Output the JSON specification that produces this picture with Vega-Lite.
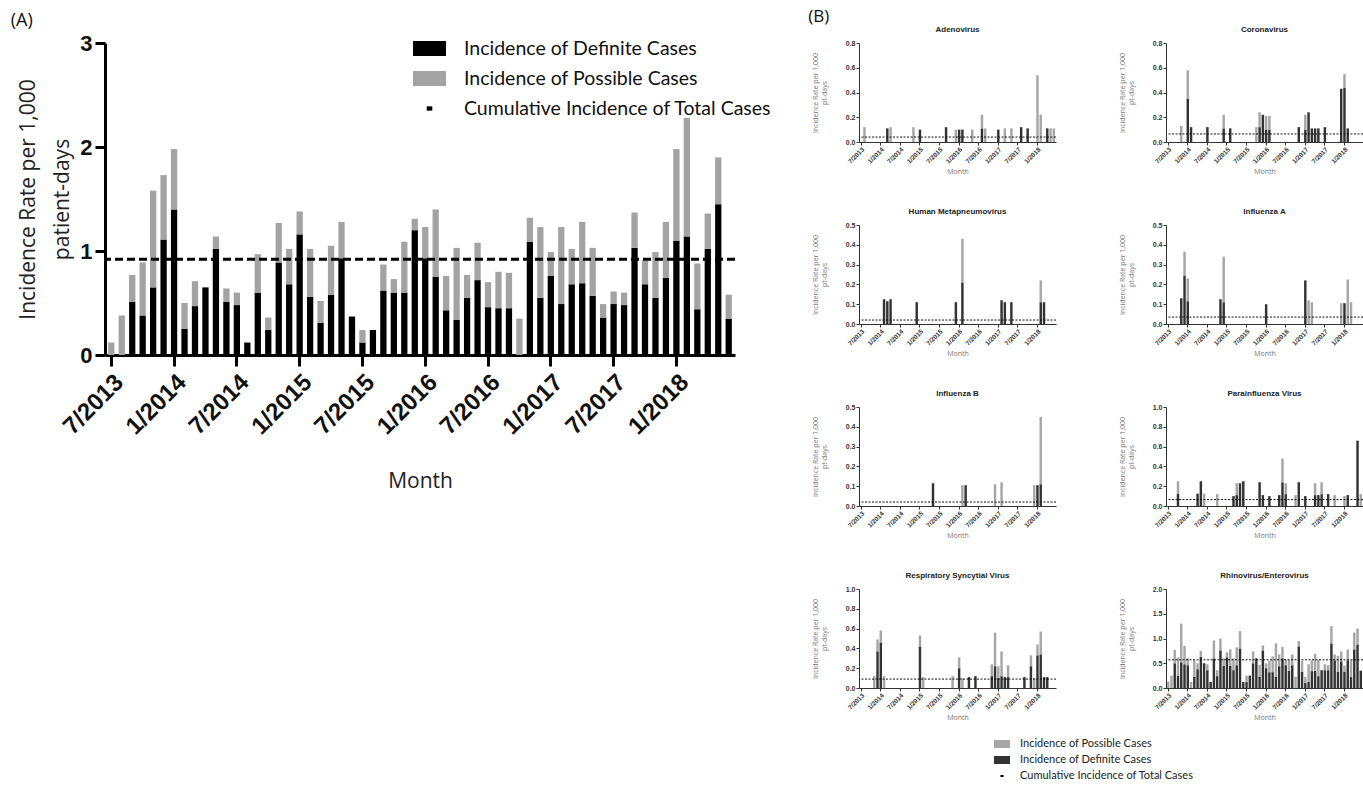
{
"$schema":"https://vega.github.io/schema/vega-lite/v6.json",
"padding":{"left":10,"top":8,"right":5,"bottom":5},
"background":"white",
"config":{
 "view":{"stroke":null},
 "axis":{"grid":false,"labelOverlap":false,"domainColor":"#333","domainWidth":1,"tickColor":"#333","tickWidth":1,"tickSize":3,"labelFont":"Liberation Sans","labelFontWeight":"bold","labelFontSize":7,"labelColor":"#333","labelPadding":1,"titleFont":"Open Sans","titleFontWeight":"normal","titleFontSize":7,"titleColor":"#777","titlePadding":3,"titleLineHeight":9},
 "axisX":{"labelAngle":-45,"labelFontSize":6.5},
 "axisY":{"titlePadding":18},
 "title":{"font":"Liberation Sans","fontSize":8,"fontWeight":"bold","color":"#222","offset":5},
 "legend":{"labelLimit":0}
},
"datasets":{
 "a":[
  {"m":"7/2013","d":0,"p":0.12},{"m":"8/2013","d":0,"p":0.38},{"m":"9/2013","d":0.51,"p":0.26},{"m":"10/2013","d":0.38,"p":0.51},{"m":"11/2013","d":0.65,"p":0.93},{"m":"12/2013","d":1.11,"p":0.62},
  {"m":"1/2014","d":1.40,"p":0.58},{"m":"2/2014","d":0.25,"p":0.25},{"m":"3/2014","d":0.47,"p":0.24},{"m":"4/2014","d":0.65,"p":0},{"m":"5/2014","d":1.02,"p":0.12},{"m":"6/2014","d":0.51,"p":0.13},
  {"m":"7/2014","d":0.48,"p":0.12},{"m":"8/2014","d":0.12,"p":0},{"m":"9/2014","d":0.60,"p":0.37},{"m":"10/2014","d":0.24,"p":0.12},{"m":"11/2014","d":0.89,"p":0.38},{"m":"12/2014","d":0.68,"p":0.34},
  {"m":"1/2015","d":1.16,"p":0.22},{"m":"2/2015","d":0.56,"p":0.46},{"m":"3/2015","d":0.31,"p":0.21},{"m":"4/2015","d":0.58,"p":0.47},{"m":"5/2015","d":0.93,"p":0.35},{"m":"6/2015","d":0.37,"p":0},
  {"m":"7/2015","d":0.12,"p":0.12},{"m":"8/2015","d":0.24,"p":0},{"m":"9/2015","d":0.62,"p":0.25},{"m":"10/2015","d":0.60,"p":0.13},{"m":"11/2015","d":0.60,"p":0.49},{"m":"12/2015","d":1.20,"p":0.11},
  {"m":"1/2016","d":0.93,"p":0.30},{"m":"2/2016","d":0.75,"p":0.65},{"m":"3/2016","d":0.43,"p":0.33},{"m":"4/2016","d":0.34,"p":0.69},{"m":"5/2016","d":0.55,"p":0.22},{"m":"6/2016","d":0.72,"p":0.36},
  {"m":"7/2016","d":0.46,"p":0.24},{"m":"8/2016","d":0.45,"p":0.35},{"m":"9/2016","d":0.45,"p":0.34},{"m":"10/2016","d":0,"p":0.35},{"m":"11/2016","d":1.09,"p":0.23},{"m":"12/2016","d":0.55,"p":0.68},
  {"m":"1/2017","d":0.76,"p":0.23},{"m":"2/2017","d":0.49,"p":0.74},{"m":"3/2017","d":0.68,"p":0.34},{"m":"4/2017","d":0.69,"p":0.59},{"m":"5/2017","d":0.57,"p":0.46},{"m":"6/2017","d":0.36,"p":0.13},
  {"m":"7/2017","d":0.49,"p":0.12},{"m":"8/2017","d":0.48,"p":0.12},{"m":"9/2017","d":1.03,"p":0.34},{"m":"10/2017","d":0.68,"p":0.23},{"m":"11/2017","d":0.55,"p":0.44},{"m":"12/2017","d":0.74,"p":0.54},
  {"m":"1/2018","d":1.10,"p":0.88},{"m":"2/2018","d":1.14,"p":1.14},{"m":"3/2018","d":0.44,"p":0.44},{"m":"4/2018","d":1.02,"p":0.34},{"m":"5/2018","d":1.45,"p":0.45},{"m":"6/2018","d":0.35,"p":0.23}
 ],
 "b":[
  {"g":"ad","m":"8/2013","d":0,"p":0.12},{"g":"ad","m":"3/2014","d":0.11,"p":0},{"g":"ad","m":"4/2014","d":0,"p":0.12},{"g":"ad","m":"11/2014","d":0,"p":0.12},{"g":"ad","m":"1/2015","d":0.10,"p":0},{"g":"ad","m":"9/2015","d":0.12,"p":0},{"g":"ad","m":"12/2015","d":0,"p":0.10},{"g":"ad","m":"1/2016","d":0.10,"p":0},{"g":"ad","m":"2/2016","d":0.10,"p":0},{"g":"ad","m":"5/2016","d":0,"p":0.10},{"g":"ad","m":"8/2016","d":0.11,"p":0.11},{"g":"ad","m":"9/2016","d":0,"p":0.11},{"g":"ad","m":"1/2017","d":0.10,"p":0},{"g":"ad","m":"3/2017","d":0,"p":0.11},{"g":"ad","m":"5/2017","d":0,"p":0.11},{"g":"ad","m":"8/2017","d":0.12,"p":0},{"g":"ad","m":"10/2017","d":0.11,"p":0},{"g":"ad","m":"1/2018","d":0,"p":0.54},{"g":"ad","m":"2/2018","d":0,"p":0.22},{"g":"ad","m":"4/2018","d":0.11,"p":0},{"g":"ad","m":"5/2018","d":0,"p":0.11},{"g":"ad","m":"6/2018","d":0,"p":0.11},
  {"g":"co","m":"11/2013","d":0,"p":0.13},{"g":"co","m":"1/2014","d":0.35,"p":0.23},{"g":"co","m":"2/2014","d":0.12,"p":0},{"g":"co","m":"7/2014","d":0.12,"p":0},{"g":"co","m":"12/2014","d":0.11,"p":0.11},{"g":"co","m":"2/2015","d":0.11,"p":0},{"g":"co","m":"10/2015","d":0,"p":0.12},{"g":"co","m":"11/2015","d":0.12,"p":0.12},{"g":"co","m":"12/2015","d":0.22,"p":0},{"g":"co","m":"1/2016","d":0.10,"p":0.11},{"g":"co","m":"2/2016","d":0.10,"p":0.11},{"g":"co","m":"11/2016","d":0.12,"p":0},{"g":"co","m":"1/2017","d":0.10,"p":0.12},{"g":"co","m":"2/2017","d":0.24,"p":0},{"g":"co","m":"3/2017","d":0.11,"p":0},{"g":"co","m":"4/2017","d":0.11,"p":0},{"g":"co","m":"5/2017","d":0.11,"p":0},{"g":"co","m":"7/2017","d":0.12,"p":0},{"g":"co","m":"12/2017","d":0.43,"p":0},{"g":"co","m":"1/2018","d":0.44,"p":0.11},{"g":"co","m":"2/2018","d":0.11,"p":0},
  {"g":"hm","m":"2/2014","d":0.125,"p":0},{"g":"hm","m":"3/2014","d":0.115,"p":0},{"g":"hm","m":"4/2014","d":0.125,"p":0},{"g":"hm","m":"12/2014","d":0.11,"p":0},{"g":"hm","m":"12/2015","d":0.11,"p":0},{"g":"hm","m":"2/2016","d":0.21,"p":0.22},{"g":"hm","m":"2/2017","d":0.12,"p":0},{"g":"hm","m":"3/2017","d":0.11,"p":0},{"g":"hm","m":"5/2017","d":0.11,"p":0},{"g":"hm","m":"2/2018","d":0.11,"p":0.11},{"g":"hm","m":"3/2018","d":0.11,"p":0},
  {"g":"fa","m":"11/2013","d":0.13,"p":0},{"g":"fa","m":"12/2013","d":0.245,"p":0.12},{"g":"fa","m":"1/2014","d":0.115,"p":0.115},{"g":"fa","m":"11/2014","d":0.125,"p":0},{"g":"fa","m":"12/2014","d":0.11,"p":0.23},{"g":"fa","m":"1/2016","d":0.10,"p":0},{"g":"fa","m":"1/2017","d":0.22,"p":0},{"g":"fa","m":"2/2017","d":0,"p":0.12},{"g":"fa","m":"3/2017","d":0,"p":0.11},{"g":"fa","m":"12/2017","d":0,"p":0.105},{"g":"fa","m":"1/2018","d":0.105,"p":0},{"g":"fa","m":"2/2018","d":0,"p":0.225},{"g":"fa","m":"3/2018","d":0,"p":0.11},
  {"g":"fb","m":"5/2015","d":0.115,"p":0},{"g":"fb","m":"2/2016","d":0,"p":0.105},{"g":"fb","m":"3/2016","d":0.105,"p":0},{"g":"fb","m":"12/2016","d":0,"p":0.11},{"g":"fb","m":"2/2017","d":0,"p":0.12},{"g":"fb","m":"12/2017","d":0,"p":0.105},{"g":"fb","m":"1/2018","d":0.105,"p":0},{"g":"fb","m":"2/2018","d":0.11,"p":0.34},
  {"g":"pi","m":"10/2013","d":0.125,"p":0.125},{"g":"pi","m":"4/2014","d":0.125,"p":0},{"g":"pi","m":"5/2014","d":0.25,"p":0},{"g":"pi","m":"6/2014","d":0,"p":0.125},{"g":"pi","m":"10/2014","d":0,"p":0.12},{"g":"pi","m":"3/2015","d":0.10,"p":0},{"g":"pi","m":"4/2015","d":0.11,"p":0.12},{"g":"pi","m":"5/2015","d":0.23,"p":0},{"g":"pi","m":"6/2015","d":0.25,"p":0},{"g":"pi","m":"11/2015","d":0.24,"p":0},{"g":"pi","m":"12/2015","d":0.11,"p":0},{"g":"pi","m":"2/2016","d":0.10,"p":0},{"g":"pi","m":"5/2016","d":0.11,"p":0},{"g":"pi","m":"6/2016","d":0.24,"p":0.24},{"g":"pi","m":"7/2016","d":0.12,"p":0.11},{"g":"pi","m":"10/2016","d":0,"p":0.11},{"g":"pi","m":"11/2016","d":0.24,"p":0},{"g":"pi","m":"1/2017","d":0.10,"p":0},{"g":"pi","m":"4/2017","d":0.11,"p":0.12},{"g":"pi","m":"5/2017","d":0.11,"p":0},{"g":"pi","m":"6/2017","d":0.12,"p":0.12},{"g":"pi","m":"8/2017","d":0.12,"p":0},{"g":"pi","m":"10/2017","d":0,"p":0.11},{"g":"pi","m":"1/2018","d":0,"p":0.10},{"g":"pi","m":"2/2018","d":0.11,"p":0},{"g":"pi","m":"5/2018","d":0.66,"p":0},{"g":"pi","m":"6/2018","d":0,"p":0.12},
  {"g":"rs","m":"11/2013","d":0,"p":0.12},{"g":"rs","m":"12/2013","d":0.37,"p":0.12},{"g":"rs","m":"1/2014","d":0.46,"p":0.12},{"g":"rs","m":"2/2014","d":0,"p":0.12},{"g":"rs","m":"1/2015","d":0.42,"p":0.11},{"g":"rs","m":"2/2015","d":0,"p":0.11},{"g":"rs","m":"11/2015","d":0,"p":0.12},{"g":"rs","m":"1/2016","d":0.20,"p":0.11},{"g":"rs","m":"2/2016","d":0,"p":0.10},{"g":"rs","m":"4/2016","d":0.11,"p":0},{"g":"rs","m":"6/2016","d":0.12,"p":0},{"g":"rs","m":"11/2016","d":0.12,"p":0.12},{"g":"rs","m":"12/2016","d":0.22,"p":0.34},{"g":"rs","m":"1/2017","d":0.10,"p":0.12},{"g":"rs","m":"2/2017","d":0.12,"p":0.25},{"g":"rs","m":"3/2017","d":0.11,"p":0},{"g":"rs","m":"4/2017","d":0.11,"p":0.12},{"g":"rs","m":"9/2017","d":0.11,"p":0},{"g":"rs","m":"11/2017","d":0.22,"p":0.11},{"g":"rs","m":"12/2017","d":0,"p":0.10},{"g":"rs","m":"1/2018","d":0.33,"p":0.11},{"g":"rs","m":"2/2018","d":0.34,"p":0.23},{"g":"rs","m":"3/2018","d":0.11,"p":0},{"g":"rs","m":"4/2018","d":0.11,"p":0},
  {"g":"rh","m":"7/2013","d":0,"p":0.13},{"g":"rh","m":"8/2013","d":0,"p":0.25},{"g":"rh","m":"9/2013","d":0.5,"p":0.27},{"g":"rh","m":"10/2013","d":0.25,"p":0.37},{"g":"rh","m":"11/2013","d":0.52,"p":0.78},{"g":"rh","m":"12/2013","d":0.48,"p":0.37},
  {"g":"rh","m":"1/2014","d":0.46,"p":0.14},{"g":"rh","m":"2/2014","d":0,"p":0.12},{"g":"rh","m":"3/2014","d":0.23,"p":0.33},{"g":"rh","m":"4/2014","d":0.38,"p":0.12},{"g":"rh","m":"5/2014","d":0.63,"p":0.12},{"g":"rh","m":"6/2014","d":0.5,"p":0},
  {"g":"rh","m":"7/2014","d":0.36,"p":0.12},{"g":"rh","m":"8/2014","d":0.12,"p":0},{"g":"rh","m":"9/2014","d":0.6,"p":0.36},{"g":"rh","m":"10/2014","d":0.24,"p":0.12},{"g":"rh","m":"11/2014","d":0.76,"p":0.24},{"g":"rh","m":"12/2014","d":0.45,"p":0.15},
  {"g":"rh","m":"1/2015","d":0.62,"p":0.1},{"g":"rh","m":"2/2015","d":0.45,"p":0.33},{"g":"rh","m":"3/2015","d":0.36,"p":0.24},{"g":"rh","m":"4/2015","d":0.46,"p":0.36},{"g":"rh","m":"5/2015","d":0.8,"p":0.35},{"g":"rh","m":"6/2015","d":0.12,"p":0},
  {"g":"rh","m":"7/2015","d":0.12,"p":0.13},{"g":"rh","m":"8/2015","d":0.25,"p":0},{"g":"rh","m":"9/2015","d":0.5,"p":0.24},{"g":"rh","m":"10/2015","d":0.6,"p":0},{"g":"rh","m":"11/2015","d":0.23,"p":0.24},{"g":"rh","m":"12/2015","d":0.76,"p":0.1},
  {"g":"rh","m":"1/2016","d":0.4,"p":0.1},{"g":"rh","m":"2/2016","d":0.32,"p":0.23},{"g":"rh","m":"3/2016","d":0.32,"p":0.32},{"g":"rh","m":"4/2016","d":0.23,"p":0.67},{"g":"rh","m":"5/2016","d":0.44,"p":0.24},{"g":"rh","m":"6/2016","d":0.6,"p":0.23},
  {"g":"rh","m":"7/2016","d":0.46,"p":0.12},{"g":"rh","m":"8/2016","d":0.35,"p":0.22},{"g":"rh","m":"9/2016","d":0.46,"p":0.22},{"g":"rh","m":"10/2016","d":0,"p":0.23},{"g":"rh","m":"11/2016","d":0.84,"p":0.11},{"g":"rh","m":"12/2016","d":0.33,"p":0.22},
  {"g":"rh","m":"1/2017","d":0.1,"p":0.12},{"g":"rh","m":"2/2017","d":0.12,"p":0.36},{"g":"rh","m":"3/2017","d":0.34,"p":0.22},{"g":"rh","m":"4/2017","d":0.35,"p":0.34},{"g":"rh","m":"5/2017","d":0.24,"p":0.33},{"g":"rh","m":"6/2017","d":0.36,"p":0},
  {"g":"rh","m":"7/2017","d":0.36,"p":0.12},{"g":"rh","m":"8/2017","d":0.36,"p":0.1},{"g":"rh","m":"9/2017","d":0.9,"p":0.35},{"g":"rh","m":"10/2017","d":0.56,"p":0.12},{"g":"rh","m":"11/2017","d":0.33,"p":0.32},{"g":"rh","m":"12/2017","d":0.54,"p":0.2},
  {"g":"rh","m":"1/2018","d":0.33,"p":0.12},{"g":"rh","m":"2/2018","d":0.56,"p":0.22},{"g":"rh","m":"3/2018","d":0.22,"p":0.34},{"g":"rh","m":"4/2018","d":0.78,"p":0.34},{"g":"rh","m":"5/2018","d":0.88,"p":0.32},{"g":"rh","m":"6/2018","d":0.35,"p":0}
 ],
 "c":[{"g":"ad","c":0.04},{"g":"co","c":0.065},{"g":"hm","c":0.02},{"g":"fa","c":0.035},{"g":"fb","c":0.02},{"g":"pi","c":0.065},{"g":"rs","c":0.09},{"g":"rh","c":0.57}],
 "a_cum":[{"c":0.92}]
},
"resolve":{"scale":{"color":"independent"},"legend":{"color":"independent"}},
"spacing":31,
"hconcat":[
 {
  "title":{"text":"(A)","anchor":"start","font":"Open Sans","fontSize":18,"fontWeight":"normal","color":"#111","offset":2,"dx":-7},
  "width":630,"height":312,
  "layer":[
   {"data":{"name":"a"},"transform":[{"fold":["d","p"],"as":["t","v"]}],
    "mark":{"type":"bar"},
    "encoding":{
     "x":{"field":"m","type":"ordinal","sort":null,"title":"Month","scale":{"paddingInner":0.4,"paddingOuter":0.3},
      "axis":{"values":["7/2013","1/2014","7/2014","1/2015","7/2015","1/2016","7/2016","1/2017","7/2017","1/2018"],"labelOverlap":false,"labelAngle":-45,"labelFontSize":24,"labelFont":"Liberation Sans","labelFontWeight":"bold","labelColor":"#111","labelPadding":4,"domainColor":"#000","domainWidth":3,"tickColor":"#000","tickWidth":3,"tickSize":11,"titleFont":"Open Sans","titleFontSize":21,"titleColor":"#222","titlePadding":32}},
     "y":{"field":"v","type":"quantitative","stack":"zero","title":["Incidence Rate per 1,000","patient-days"],"scale":{"domain":[0,3]},
      "axis":{"values":[0,1,2,3],"format":"d","labelOverlap":false,"labelFontSize":22,"labelFont":"Liberation Sans","labelFontWeight":"bold","labelColor":"#111","labelPadding":3,"domainColor":"#000","domainWidth":3,"tickColor":"#000","tickWidth":3,"tickSize":10,"titleFont":"Open Sans","titleFontSize":21,"titleColor":"#222","titlePadding":7,"titleLineHeight":34}},
     "color":{"field":"t","type":"nominal","scale":{"domain":["d","p","c"],"range":["#000000","#a3a3a3","#000000"]},
      "legend":{"orient":"none","legendX":308,"legendY":-11,"title":null,"direction":"vertical","padding":0,"labelFont":"Lato","labelFontSize":19.5,"labelColor":"#111","symbolSize":1089,"symbolStrokeWidth":0,"labelOffset":18,"rowPadding":4,
       "labelExpr":"datum.value=='d'?'Incidence of Definite Cases':datum.value=='p'?'Incidence of Possible Cases':'Cumulative Incidence of  Total Cases'",
       "encode":{"symbols":{"update":{"shape":{"signal":"datum.value=='c'?'M-0.17,-0.13H0.17V0.13H-0.17Z':'M-1,-0.45H1V0.45H-1Z'"}}}}}},
     "order":{"field":"t","type":"ordinal"}
    }},
   {"data":{"name":"a_cum"},"mark":{"type":"rule","strokeDash":[8,4],"strokeWidth":3,"color":"#000"},"encoding":{"y":{"field":"c","type":"quantitative","title":["Incidence Rate per 1,000","patient-days"],
      "axis":{"values":[0,1,2,3],"format":"d","labelOverlap":false,"labelFontSize":22,"labelFont":"Liberation Sans","labelFontWeight":"bold","labelColor":"#111","labelPadding":3,"domainColor":"#000","domainWidth":3,"tickColor":"#000","tickWidth":3,"tickSize":10,"titleFont":"Open Sans","titleFontSize":21,"titleColor":"#222","titlePadding":7,"titleLineHeight":34}}}}
  ]
 },
 {
  "title":{"text":"(B)","anchor":"start","font":"Open Sans","fontSize":17,"fontWeight":"normal","color":"#111","offset":0,"dx":-3},
  "spacing":33,
  "vconcat":[
   {"spacing":61,"hconcat":[
    {"title":"Adenovirus","width":197,"height":99,"layer":[
     {"data":{"name":"b"},"transform":[{"filter":"datum.g==='ad'"},{"fold":["d","p"],"as":["s","v"]}],"mark":{"type":"bar"},
      "encoding":{
       "x":{"field":"m","type":"ordinal","title":"Month","scale":{"domain":["7/2013","8/2013","9/2013","10/2013","11/2013","12/2013","1/2014","2/2014","3/2014","4/2014","5/2014","6/2014","7/2014","8/2014","9/2014","10/2014","11/2014","12/2014","1/2015","2/2015","3/2015","4/2015","5/2015","6/2015","7/2015","8/2015","9/2015","10/2015","11/2015","12/2015","1/2016","2/2016","3/2016","4/2016","5/2016","6/2016","7/2016","8/2016","9/2016","10/2016","11/2016","12/2016","1/2017","2/2017","3/2017","4/2017","5/2017","6/2017","7/2017","8/2017","9/2017","10/2017","11/2017","12/2017","1/2018","2/2018","3/2018","4/2018","5/2018","6/2018"],"paddingInner":0.25,"paddingOuter":0.3},"axis":{"values":["7/2013","1/2014","7/2014","1/2015","7/2015","1/2016","7/2016","1/2017","7/2017","1/2018"],"labelOverlap":false}},
       "y":{"field":"v","type":"quantitative","stack":"zero","title":["Incidence Rate per 1,000","pt-days"],"scale":{"domain":[0,0.8]},"axis":{"values":[0,0.2,0.4,0.6,0.8],"format":".1f","labelOverlap":false}},
       "color":{"field":"s","type":"nominal","scale":{"domain":["p","d","c"],"range":["#a6a6a6","#333333","#000000"]},"legend":{"orient":"none","legendX":135,"legendY":693,"title":null,"direction":"vertical","padding":0,"labelFont":"Lato","labelFontSize":11,"labelColor":"#222","symbolSize":256,"symbolStrokeWidth":0,"labelOffset":10,"rowPadding":3,"labelExpr":"datum.value=='p'?'Incidence of Possible Cases':datum.value=='d'?'Incidence of Definite Cases':'Cumulative Incidence of  Total Cases'","encode":{"symbols":{"update":{"shape":{"signal":"datum.value=='c'?'M-0.2,-0.12H0.2V0.12H-0.2Z':'M-1,-0.5H1V0.5H-1Z'"}}}}}},
       "order":{"field":"s","type":"ordinal"}}},
     {"data":{"name":"c"},"transform":[{"filter":"datum.g==='ad'"}],"mark":{"type":"rule","strokeDash":[2,1.5],"strokeWidth":1,"color":"#111"},"encoding":{"y":{"field":"c","type":"quantitative","title":["Incidence Rate per 1,000","pt-days"],"axis":{"values":[0,0.2,0.4,0.6,0.8],"format":".1f","labelOverlap":false}}}}
    ]},
    {"title":"Coronavirus","width":197,"height":99,"layer":[
     {"data":{"name":"b"},"transform":[{"filter":"datum.g==='co'"},{"fold":["d","p"],"as":["s","v"]}],"mark":{"type":"bar"},
      "encoding":{
       "x":{"field":"m","type":"ordinal","title":"Month","scale":{"domain":["7/2013","8/2013","9/2013","10/2013","11/2013","12/2013","1/2014","2/2014","3/2014","4/2014","5/2014","6/2014","7/2014","8/2014","9/2014","10/2014","11/2014","12/2014","1/2015","2/2015","3/2015","4/2015","5/2015","6/2015","7/2015","8/2015","9/2015","10/2015","11/2015","12/2015","1/2016","2/2016","3/2016","4/2016","5/2016","6/2016","7/2016","8/2016","9/2016","10/2016","11/2016","12/2016","1/2017","2/2017","3/2017","4/2017","5/2017","6/2017","7/2017","8/2017","9/2017","10/2017","11/2017","12/2017","1/2018","2/2018","3/2018","4/2018","5/2018","6/2018"],"paddingInner":0.25,"paddingOuter":0.3},"axis":{"values":["7/2013","1/2014","7/2014","1/2015","7/2015","1/2016","7/2016","1/2017","7/2017","1/2018"],"labelOverlap":false}},
       "y":{"field":"v","type":"quantitative","stack":"zero","title":["Incidence Rate per 1,000","pt-days"],"scale":{"domain":[0,0.8]},"axis":{"values":[0,0.2,0.4,0.6,0.8],"format":".1f","labelOverlap":false}},
       "color":{"field":"s","type":"nominal","scale":{"domain":["p","d","c"],"range":["#a6a6a6","#333333","#000000"]},"legend":{"orient":"none","legendX":135,"legendY":693,"title":null,"direction":"vertical","padding":0,"labelFont":"Lato","labelFontSize":11,"labelColor":"#222","symbolSize":256,"symbolStrokeWidth":0,"labelOffset":10,"rowPadding":3,"labelExpr":"datum.value=='p'?'Incidence of Possible Cases':datum.value=='d'?'Incidence of Definite Cases':'Cumulative Incidence of  Total Cases'","encode":{"symbols":{"update":{"shape":{"signal":"datum.value=='c'?'M-0.2,-0.12H0.2V0.12H-0.2Z':'M-1,-0.5H1V0.5H-1Z'"}}}}}},
       "order":{"field":"s","type":"ordinal"}}},
     {"data":{"name":"c"},"transform":[{"filter":"datum.g==='co'"}],"mark":{"type":"rule","strokeDash":[2,1.5],"strokeWidth":1,"color":"#111"},"encoding":{"y":{"field":"c","type":"quantitative","title":["Incidence Rate per 1,000","pt-days"],"axis":{"values":[0,0.2,0.4,0.6,0.8],"format":".1f","labelOverlap":false}}}}
    ]}
   ]},
   {"spacing":61,"hconcat":[
    {"title":"Human Metapneumovirus","width":197,"height":99,"layer":[
     {"data":{"name":"b"},"transform":[{"filter":"datum.g==='hm'"},{"fold":["d","p"],"as":["s","v"]}],"mark":{"type":"bar"},
      "encoding":{
       "x":{"field":"m","type":"ordinal","title":"Month","scale":{"domain":["7/2013","8/2013","9/2013","10/2013","11/2013","12/2013","1/2014","2/2014","3/2014","4/2014","5/2014","6/2014","7/2014","8/2014","9/2014","10/2014","11/2014","12/2014","1/2015","2/2015","3/2015","4/2015","5/2015","6/2015","7/2015","8/2015","9/2015","10/2015","11/2015","12/2015","1/2016","2/2016","3/2016","4/2016","5/2016","6/2016","7/2016","8/2016","9/2016","10/2016","11/2016","12/2016","1/2017","2/2017","3/2017","4/2017","5/2017","6/2017","7/2017","8/2017","9/2017","10/2017","11/2017","12/2017","1/2018","2/2018","3/2018","4/2018","5/2018","6/2018"],"paddingInner":0.25,"paddingOuter":0.3},"axis":{"values":["7/2013","1/2014","7/2014","1/2015","7/2015","1/2016","7/2016","1/2017","7/2017","1/2018"],"labelOverlap":false}},
       "y":{"field":"v","type":"quantitative","stack":"zero","title":["Incidence Rate per 1,000","pt-days"],"scale":{"domain":[0,0.5]},"axis":{"values":[0,0.1,0.2,0.3,0.4,0.5],"format":".1f","labelOverlap":false}},
       "color":{"field":"s","type":"nominal","scale":{"domain":["p","d","c"],"range":["#a6a6a6","#333333","#000000"]},"legend":{"orient":"none","legendX":135,"legendY":693,"title":null,"direction":"vertical","padding":0,"labelFont":"Lato","labelFontSize":11,"labelColor":"#222","symbolSize":256,"symbolStrokeWidth":0,"labelOffset":10,"rowPadding":3,"labelExpr":"datum.value=='p'?'Incidence of Possible Cases':datum.value=='d'?'Incidence of Definite Cases':'Cumulative Incidence of  Total Cases'","encode":{"symbols":{"update":{"shape":{"signal":"datum.value=='c'?'M-0.2,-0.12H0.2V0.12H-0.2Z':'M-1,-0.5H1V0.5H-1Z'"}}}}}},
       "order":{"field":"s","type":"ordinal"}}},
     {"data":{"name":"c"},"transform":[{"filter":"datum.g==='hm'"}],"mark":{"type":"rule","strokeDash":[2,1.5],"strokeWidth":1,"color":"#111"},"encoding":{"y":{"field":"c","type":"quantitative","title":["Incidence Rate per 1,000","pt-days"],"axis":{"values":[0,0.1,0.2,0.3,0.4,0.5],"format":".1f","labelOverlap":false}}}}
    ]},
    {"title":"Influenza A","width":197,"height":99,"layer":[
     {"data":{"name":"b"},"transform":[{"filter":"datum.g==='fa'"},{"fold":["d","p"],"as":["s","v"]}],"mark":{"type":"bar"},
      "encoding":{
       "x":{"field":"m","type":"ordinal","title":"Month","scale":{"domain":["7/2013","8/2013","9/2013","10/2013","11/2013","12/2013","1/2014","2/2014","3/2014","4/2014","5/2014","6/2014","7/2014","8/2014","9/2014","10/2014","11/2014","12/2014","1/2015","2/2015","3/2015","4/2015","5/2015","6/2015","7/2015","8/2015","9/2015","10/2015","11/2015","12/2015","1/2016","2/2016","3/2016","4/2016","5/2016","6/2016","7/2016","8/2016","9/2016","10/2016","11/2016","12/2016","1/2017","2/2017","3/2017","4/2017","5/2017","6/2017","7/2017","8/2017","9/2017","10/2017","11/2017","12/2017","1/2018","2/2018","3/2018","4/2018","5/2018","6/2018"],"paddingInner":0.25,"paddingOuter":0.3},"axis":{"values":["7/2013","1/2014","7/2014","1/2015","7/2015","1/2016","7/2016","1/2017","7/2017","1/2018"],"labelOverlap":false}},
       "y":{"field":"v","type":"quantitative","stack":"zero","title":["Incidence Rate per 1,000","pt-days"],"scale":{"domain":[0,0.5]},"axis":{"values":[0,0.1,0.2,0.3,0.4,0.5],"format":".1f","labelOverlap":false}},
       "color":{"field":"s","type":"nominal","scale":{"domain":["p","d","c"],"range":["#a6a6a6","#333333","#000000"]},"legend":{"orient":"none","legendX":135,"legendY":693,"title":null,"direction":"vertical","padding":0,"labelFont":"Lato","labelFontSize":11,"labelColor":"#222","symbolSize":256,"symbolStrokeWidth":0,"labelOffset":10,"rowPadding":3,"labelExpr":"datum.value=='p'?'Incidence of Possible Cases':datum.value=='d'?'Incidence of Definite Cases':'Cumulative Incidence of  Total Cases'","encode":{"symbols":{"update":{"shape":{"signal":"datum.value=='c'?'M-0.2,-0.12H0.2V0.12H-0.2Z':'M-1,-0.5H1V0.5H-1Z'"}}}}}},
       "order":{"field":"s","type":"ordinal"}}},
     {"data":{"name":"c"},"transform":[{"filter":"datum.g==='fa'"}],"mark":{"type":"rule","strokeDash":[2,1.5],"strokeWidth":1,"color":"#111"},"encoding":{"y":{"field":"c","type":"quantitative","title":["Incidence Rate per 1,000","pt-days"],"axis":{"values":[0,0.1,0.2,0.3,0.4,0.5],"format":".1f","labelOverlap":false}}}}
    ]}
   ]},
   {"spacing":61,"hconcat":[
    {"title":"Influenza B","width":197,"height":99,"layer":[
     {"data":{"name":"b"},"transform":[{"filter":"datum.g==='fb'"},{"fold":["d","p"],"as":["s","v"]}],"mark":{"type":"bar"},
      "encoding":{
       "x":{"field":"m","type":"ordinal","title":"Month","scale":{"domain":["7/2013","8/2013","9/2013","10/2013","11/2013","12/2013","1/2014","2/2014","3/2014","4/2014","5/2014","6/2014","7/2014","8/2014","9/2014","10/2014","11/2014","12/2014","1/2015","2/2015","3/2015","4/2015","5/2015","6/2015","7/2015","8/2015","9/2015","10/2015","11/2015","12/2015","1/2016","2/2016","3/2016","4/2016","5/2016","6/2016","7/2016","8/2016","9/2016","10/2016","11/2016","12/2016","1/2017","2/2017","3/2017","4/2017","5/2017","6/2017","7/2017","8/2017","9/2017","10/2017","11/2017","12/2017","1/2018","2/2018","3/2018","4/2018","5/2018","6/2018"],"paddingInner":0.25,"paddingOuter":0.3},"axis":{"values":["7/2013","1/2014","7/2014","1/2015","7/2015","1/2016","7/2016","1/2017","7/2017","1/2018"],"labelOverlap":false}},
       "y":{"field":"v","type":"quantitative","stack":"zero","title":["Incidence Rate per 1,000","pt-days"],"scale":{"domain":[0,0.5]},"axis":{"values":[0,0.1,0.2,0.3,0.4,0.5],"format":".1f","labelOverlap":false}},
       "color":{"field":"s","type":"nominal","scale":{"domain":["p","d","c"],"range":["#a6a6a6","#333333","#000000"]},"legend":{"orient":"none","legendX":135,"legendY":693,"title":null,"direction":"vertical","padding":0,"labelFont":"Lato","labelFontSize":11,"labelColor":"#222","symbolSize":256,"symbolStrokeWidth":0,"labelOffset":10,"rowPadding":3,"labelExpr":"datum.value=='p'?'Incidence of Possible Cases':datum.value=='d'?'Incidence of Definite Cases':'Cumulative Incidence of  Total Cases'","encode":{"symbols":{"update":{"shape":{"signal":"datum.value=='c'?'M-0.2,-0.12H0.2V0.12H-0.2Z':'M-1,-0.5H1V0.5H-1Z'"}}}}}},
       "order":{"field":"s","type":"ordinal"}}},
     {"data":{"name":"c"},"transform":[{"filter":"datum.g==='fb'"}],"mark":{"type":"rule","strokeDash":[2,1.5],"strokeWidth":1,"color":"#111"},"encoding":{"y":{"field":"c","type":"quantitative","title":["Incidence Rate per 1,000","pt-days"],"axis":{"values":[0,0.1,0.2,0.3,0.4,0.5],"format":".1f","labelOverlap":false}}}}
    ]},
    {"title":"Parainfluenza Virus","width":197,"height":99,"layer":[
     {"data":{"name":"b"},"transform":[{"filter":"datum.g==='pi'"},{"fold":["d","p"],"as":["s","v"]}],"mark":{"type":"bar"},
      "encoding":{
       "x":{"field":"m","type":"ordinal","title":"Month","scale":{"domain":["7/2013","8/2013","9/2013","10/2013","11/2013","12/2013","1/2014","2/2014","3/2014","4/2014","5/2014","6/2014","7/2014","8/2014","9/2014","10/2014","11/2014","12/2014","1/2015","2/2015","3/2015","4/2015","5/2015","6/2015","7/2015","8/2015","9/2015","10/2015","11/2015","12/2015","1/2016","2/2016","3/2016","4/2016","5/2016","6/2016","7/2016","8/2016","9/2016","10/2016","11/2016","12/2016","1/2017","2/2017","3/2017","4/2017","5/2017","6/2017","7/2017","8/2017","9/2017","10/2017","11/2017","12/2017","1/2018","2/2018","3/2018","4/2018","5/2018","6/2018"],"paddingInner":0.25,"paddingOuter":0.3},"axis":{"values":["7/2013","1/2014","7/2014","1/2015","7/2015","1/2016","7/2016","1/2017","7/2017","1/2018"],"labelOverlap":false}},
       "y":{"field":"v","type":"quantitative","stack":"zero","title":["Incidence Rate per 1,000","pt-days"],"scale":{"domain":[0,1]},"axis":{"values":[0,0.2,0.4,0.6,0.8,1.0],"format":".1f","labelOverlap":false}},
       "color":{"field":"s","type":"nominal","scale":{"domain":["p","d","c"],"range":["#a6a6a6","#333333","#000000"]},"legend":{"orient":"none","legendX":135,"legendY":693,"title":null,"direction":"vertical","padding":0,"labelFont":"Lato","labelFontSize":11,"labelColor":"#222","symbolSize":256,"symbolStrokeWidth":0,"labelOffset":10,"rowPadding":3,"labelExpr":"datum.value=='p'?'Incidence of Possible Cases':datum.value=='d'?'Incidence of Definite Cases':'Cumulative Incidence of  Total Cases'","encode":{"symbols":{"update":{"shape":{"signal":"datum.value=='c'?'M-0.2,-0.12H0.2V0.12H-0.2Z':'M-1,-0.5H1V0.5H-1Z'"}}}}}},
       "order":{"field":"s","type":"ordinal"}}},
     {"data":{"name":"c"},"transform":[{"filter":"datum.g==='pi'"}],"mark":{"type":"rule","strokeDash":[2,1.5],"strokeWidth":1,"color":"#111"},"encoding":{"y":{"field":"c","type":"quantitative","title":["Incidence Rate per 1,000","pt-days"],"axis":{"values":[0,0.2,0.4,0.6,0.8,1.0],"format":".1f","labelOverlap":false}}}}
    ]}
   ]},
   {"spacing":61,"hconcat":[
    {"title":"Respiratory Syncytial Virus","width":197,"height":99,"layer":[
     {"data":{"name":"b"},"transform":[{"filter":"datum.g==='rs'"},{"fold":["d","p"],"as":["s","v"]}],"mark":{"type":"bar"},
      "encoding":{
       "x":{"field":"m","type":"ordinal","title":"Month","scale":{"domain":["7/2013","8/2013","9/2013","10/2013","11/2013","12/2013","1/2014","2/2014","3/2014","4/2014","5/2014","6/2014","7/2014","8/2014","9/2014","10/2014","11/2014","12/2014","1/2015","2/2015","3/2015","4/2015","5/2015","6/2015","7/2015","8/2015","9/2015","10/2015","11/2015","12/2015","1/2016","2/2016","3/2016","4/2016","5/2016","6/2016","7/2016","8/2016","9/2016","10/2016","11/2016","12/2016","1/2017","2/2017","3/2017","4/2017","5/2017","6/2017","7/2017","8/2017","9/2017","10/2017","11/2017","12/2017","1/2018","2/2018","3/2018","4/2018","5/2018","6/2018"],"paddingInner":0.25,"paddingOuter":0.3},"axis":{"values":["7/2013","1/2014","7/2014","1/2015","7/2015","1/2016","7/2016","1/2017","7/2017","1/2018"],"labelOverlap":false}},
       "y":{"field":"v","type":"quantitative","stack":"zero","title":["Incidence Rate per 1,000","pt-days"],"scale":{"domain":[0,1]},"axis":{"values":[0,0.2,0.4,0.6,0.8,1.0],"format":".1f","labelOverlap":false}},
       "color":{"field":"s","type":"nominal","scale":{"domain":["p","d","c"],"range":["#a6a6a6","#333333","#000000"]},"legend":{"orient":"none","legendX":135,"legendY":693,"title":null,"direction":"vertical","padding":0,"labelFont":"Lato","labelFontSize":11,"labelColor":"#222","symbolSize":256,"symbolStrokeWidth":0,"labelOffset":10,"rowPadding":3,"labelExpr":"datum.value=='p'?'Incidence of Possible Cases':datum.value=='d'?'Incidence of Definite Cases':'Cumulative Incidence of  Total Cases'","encode":{"symbols":{"update":{"shape":{"signal":"datum.value=='c'?'M-0.2,-0.12H0.2V0.12H-0.2Z':'M-1,-0.5H1V0.5H-1Z'"}}}}}},
       "order":{"field":"s","type":"ordinal"}}},
     {"data":{"name":"c"},"transform":[{"filter":"datum.g==='rs'"}],"mark":{"type":"rule","strokeDash":[2,1.5],"strokeWidth":1,"color":"#111"},"encoding":{"y":{"field":"c","type":"quantitative","title":["Incidence Rate per 1,000","pt-days"],"axis":{"values":[0,0.2,0.4,0.6,0.8,1.0],"format":".1f","labelOverlap":false}}}}
    ]},
    {"title":"Rhinovirus/Enterovirus","width":197,"height":99,"layer":[
     {"data":{"name":"b"},"transform":[{"filter":"datum.g==='rh'"},{"fold":["d","p"],"as":["s","v"]}],"mark":{"type":"bar"},
      "encoding":{
       "x":{"field":"m","type":"ordinal","title":"Month","scale":{"domain":["7/2013","8/2013","9/2013","10/2013","11/2013","12/2013","1/2014","2/2014","3/2014","4/2014","5/2014","6/2014","7/2014","8/2014","9/2014","10/2014","11/2014","12/2014","1/2015","2/2015","3/2015","4/2015","5/2015","6/2015","7/2015","8/2015","9/2015","10/2015","11/2015","12/2015","1/2016","2/2016","3/2016","4/2016","5/2016","6/2016","7/2016","8/2016","9/2016","10/2016","11/2016","12/2016","1/2017","2/2017","3/2017","4/2017","5/2017","6/2017","7/2017","8/2017","9/2017","10/2017","11/2017","12/2017","1/2018","2/2018","3/2018","4/2018","5/2018","6/2018"],"paddingInner":0.25,"paddingOuter":0.3},"axis":{"values":["7/2013","1/2014","7/2014","1/2015","7/2015","1/2016","7/2016","1/2017","7/2017","1/2018"],"labelOverlap":false}},
       "y":{"field":"v","type":"quantitative","stack":"zero","title":["Incidence Rate per 1,000","pt-days"],"scale":{"domain":[0,2]},"axis":{"values":[0,0.5,1.0,1.5,2.0],"format":".1f","labelOverlap":false}},
       "color":{"field":"s","type":"nominal","scale":{"domain":["p","d","c"],"range":["#a6a6a6","#333333","#000000"]},"legend":{"orient":"none","legendX":135,"legendY":693,"title":null,"direction":"vertical","padding":0,"labelFont":"Lato","labelFontSize":11,"labelColor":"#222","symbolSize":256,"symbolStrokeWidth":0,"labelOffset":10,"rowPadding":3,"labelExpr":"datum.value=='p'?'Incidence of Possible Cases':datum.value=='d'?'Incidence of Definite Cases':'Cumulative Incidence of  Total Cases'","encode":{"symbols":{"update":{"shape":{"signal":"datum.value=='c'?'M-0.2,-0.12H0.2V0.12H-0.2Z':'M-1,-0.5H1V0.5H-1Z'"}}}}}},
       "order":{"field":"s","type":"ordinal"}}},
     {"data":{"name":"c"},"transform":[{"filter":"datum.g==='rh'"}],"mark":{"type":"rule","strokeDash":[2,1.5],"strokeWidth":1,"color":"#111"},"encoding":{"y":{"field":"c","type":"quantitative","title":["Incidence Rate per 1,000","pt-days"],"axis":{"values":[0,0.5,1.0,1.5,2.0],"format":".1f","labelOverlap":false}}}}
    ]}
   ]}
  ]
 }
]
}
